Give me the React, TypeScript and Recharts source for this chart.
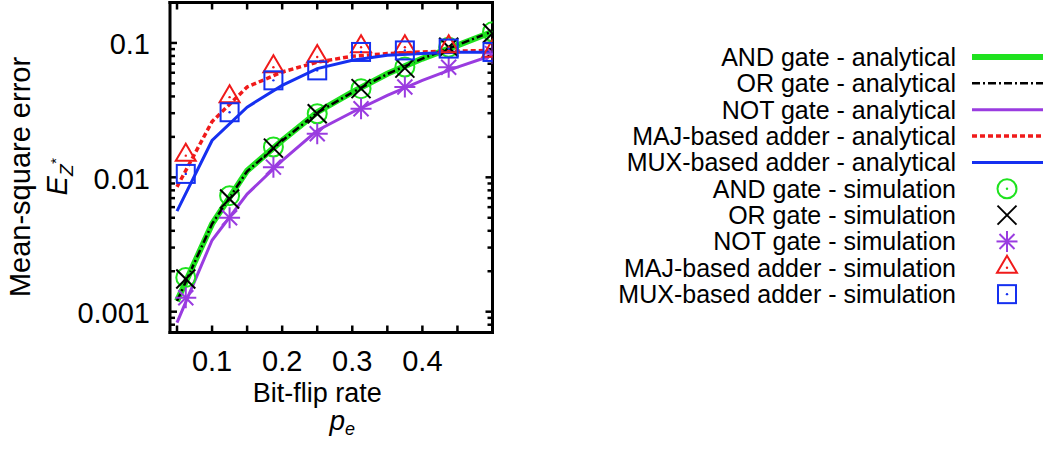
import React from 'react';
import { ComposedChart, Line, XAxis, YAxis, Legend } from 'recharts';

// ---------- data ----------
const analyticalPe = [0.05, 0.1, 0.15, 0.2, 0.25, 0.3, 0.35, 0.4, 0.45, 0.5];
const andAnalytical = [0.0012, 0.0045, 0.0112, 0.0188, 0.0305, 0.043, 0.059, 0.0765, 0.096, 0.121];
const orAnalytical = [0.0012, 0.0045, 0.0111, 0.0187, 0.0303, 0.0428, 0.0588, 0.0765, 0.0965, 0.122];
const notAnalytical = [0.00083, 0.0034, 0.0075, 0.0133, 0.0223, 0.0305, 0.0407, 0.0527, 0.066, 0.081];
const majAnalytical = [0.0085, 0.026, 0.047, 0.0608, 0.072, 0.0796, 0.0833, 0.0857, 0.087, 0.088];
const muxAnalytical = [0.0056, 0.0188, 0.0333, 0.0483, 0.0644, 0.0743, 0.081, 0.0833, 0.0852, 0.0852];

const simulationPe = [0.0625, 0.125, 0.1875, 0.25, 0.3125, 0.375, 0.4375, 0.5];
const andSimulation = [0.0018, 0.0073, 0.0168, 0.0297, 0.0457, 0.0662, 0.093, 0.121];
const orSimulation = [0.00175, 0.0069, 0.0165, 0.0297, 0.0457, 0.065, 0.093, 0.118];
const notSimulation = [0.00127, 0.005, 0.0119, 0.0211, 0.0324, 0.047, 0.066, 0.0833];
const majSimulation = [0.0145, 0.0395, 0.066, 0.0787, 0.093, 0.093, 0.093, 0.086];
const muxSimulation = [0.0106, 0.0305, 0.0527, 0.0625, 0.0857, 0.088, 0.0908, 0.0857];

const xTickLabels = [0.1, 0.2, 0.3, 0.4];
const xTickMarks = [0.05, 0.1, 0.15, 0.2, 0.25, 0.3, 0.35, 0.4, 0.45, 0.5];
const yTickLabels = [0.001, 0.01, 0.1];
const yMinorTicks = [
  0.0007, 0.0008, 0.0009,
  0.002, 0.003, 0.004, 0.005, 0.006, 0.007, 0.008, 0.009,
  0.02, 0.03, 0.04, 0.05, 0.06, 0.07, 0.08, 0.09, 0.2,
];
const xDomain = [0.04, 0.5];
const yDomain = [0.0007, 0.2];

const seriesNames = [
  'AND gate - analytical',
  'OR gate - analytical',
  'NOT gate - analytical',
  'MAJ-based adder - analytical',
  'MUX-based adder - analytical',
  'AND gate - simulation',
  'OR gate - simulation',
  'NOT gate - simulation',
  'MAJ-based adder - simulation',
  'MUX-based adder - simulation',
];

// ---------- styles ----------
const FONT = '"Liberation Sans", Arial, Helvetica, sans-serif';
const GREEN = '#1fe21f';
const BLACK = '#000000';
const PURPLE = '#9a3ce0';
const RED = '#f01a1a';
const BLUE = '#1530f0';
const TICK_LEN = 7;
const LABEL_GAP = 18;

type LineStyle = { color: string; width: number; dash?: string };
const lineStyles: LineStyle[] = [
  { color: GREEN, width: 6 },
  { color: BLACK, width: 2.5, dash: '8 3 2 3' },
  { color: PURPLE, width: 3 },
  { color: RED, width: 3.5, dash: '5 3' },
  { color: BLUE, width: 3 },
];
type MarkerKind = 'circle' | 'cross' | 'star' | 'triangle' | 'square';
const markerStyles: { kind: MarkerKind; color: string }[] = [
  { kind: 'circle', color: GREEN },
  { kind: 'cross', color: BLACK },
  { kind: 'star', color: PURPLE },
  { kind: 'triangle', color: RED },
  { kind: 'square', color: BLUE },
];

const zip = (xs: number[], ys: number[]) => xs.map((x, i) => ({ x, y: ys[i] }));
const analyticalSeries = [andAnalytical, orAnalytical, notAnalytical, majAnalytical, muxAnalytical].map((ys) =>
  zip(analyticalPe, ys)
);
const simulationSeries = [andSimulation, orSimulation, notSimulation, majSimulation, muxSimulation].map((ys) =>
  zip(simulationPe, ys)
);
// tick-mark anchors on the bottom and top frame edges (domain ends of the y axis)
const bottomTickAnchors = xTickMarks.map((x) => ({ x, y: yDomain[0] }));
const topTickAnchors = xTickMarks.map((x) => ({ x, y: yDomain[1] }));

function Marker({ kind, cx, cy, color }: { kind: MarkerKind; cx: number; cy: number; color: string }) {
  const sw = 2;
  if (kind === 'circle') {
    return (
      <g>
        <circle cx={cx} cy={cy} r={9.5} fill="none" stroke={color} strokeWidth={sw} />
        <circle cx={cx} cy={cy} r={1.2} fill={color} />
      </g>
    );
  }
  if (kind === 'cross') {
    const s = 9.5;
    return (
      <g stroke={color} strokeWidth={sw}>
        <line x1={cx - s} y1={cy - s} x2={cx + s} y2={cy + s} />
        <line x1={cx - s} y1={cy + s} x2={cx + s} y2={cy - s} />
      </g>
    );
  }
  if (kind === 'star') {
    const s = 10.5;
    const d = 7.5;
    return (
      <g stroke={color} strokeWidth={sw}>
        <line x1={cx} y1={cy - s} x2={cx} y2={cy + s} />
        <line x1={cx - s} y1={cy} x2={cx + s} y2={cy} />
        <line x1={cx - d} y1={cy - d} x2={cx + d} y2={cy + d} />
        <line x1={cx - d} y1={cy + d} x2={cx + d} y2={cy - d} />
      </g>
    );
  }
  if (kind === 'triangle') {
    return (
      <g>
        <polygon
          points={`${cx},${cy - 12} ${cx - 10},${cy + 5} ${cx + 10},${cy + 5}`}
          fill="none"
          stroke={color}
          strokeWidth={sw}
          strokeLinejoin="miter"
        />
        <circle cx={cx} cy={cy} r={1.2} fill={color} />
      </g>
    );
  }
  return (
    <g>
      <rect x={cx - 9} y={cy - 9} width={18} height={18} fill="none" stroke={color} strokeWidth={sw} />
      <circle cx={cx} cy={cy} r={1.2} fill={color} />
    </g>
  );
}

const renderLegend = () => (
  <svg width={444} height={280} style={{ display: 'block', overflow: 'visible' }}>
    {seriesNames.map((name, i) => {
      const base = 26 + i * 26.35;
      const mid = base - 9;
      const isLine = i < 5;
      return (
        <g key={name}>
          <text x={356} y={base} textAnchor="end" fontSize={25} fontFamily={FONT} fill="#000">
            {name}
          </text>
          {isLine ? (
            <line
              x1={372}
              x2={443}
              y1={mid}
              y2={mid}
              stroke={lineStyles[i].color}
              strokeWidth={lineStyles[i].width}
              strokeDasharray={lineStyles[i].dash}
            />
          ) : (
            <Marker kind={markerStyles[i - 5].kind} color={markerStyles[i - 5].color} cx={407} cy={mid} />
          )}
        </g>
      );
    })}
  </svg>
);

const renderXLabel = (props: any) => {
  const vb = props.viewBox || {};
  const cx = vb.x + vb.width / 2;
  const top = vb.y;
  return (
    <g fontFamily={FONT} fill="#000">
      <text x={cx - 14} y={top + 69} textAnchor="middle" fontSize={27}>
        Bit-flip rate
      </text>
      <text x={cx + 11} y={top + 97} textAnchor="middle" fontSize={28}>
        <tspan fontStyle="italic">p</tspan>
        <tspan fontStyle="italic" fontSize={18} dy={5}>
          e
        </tspan>
      </text>
    </g>
  );
};

const renderYLabel = (props: any) => {
  const vb = props.viewBox || {};
  const cy = vb.y + vb.height / 2 + 9.5;
  const x1 = vb.x - 40;
  const x2 = vb.x - 3;
  return (
    <g fontFamily={FONT} fill="#000">
      <text x={x1} y={cy} textAnchor="middle" fontSize={29} transform={`rotate(-90, ${x1}, ${cy})`}>
        Mean-square error
      </text>
      <text x={x2} y={cy} textAnchor="middle" fontSize={29} transform={`rotate(-90, ${x2}, ${cy})`}>
        <tspan fontStyle="italic">E</tspan>
        <tspan fontStyle="italic" fontSize={19} dy={6}>
          Z
        </tspan>
        <tspan fontStyle="italic" fontSize={15} dy={-12}>
          *
        </tspan>
      </text>
    </g>
  );
};

const noTickLabel = () => <g />;

const renderXTick = (p: any) => {
  const v = p.payload?.value;
  if (!xTickLabels.includes(v)) return <g />;
  return (
    <text x={p.x} y={p.y} dy="0.71em" textAnchor="middle" fontSize={29} fontFamily={FONT} fill="#000">
      {String(v)}
    </text>
  );
};

// inward frame ticks, drawn at the scaled positions of the anchors
const bottomTickDot = (p: any) => (
  <rect key={`bt${p.index}`} x={p.cx - 1.25} y={p.cy - TICK_LEN} width={2.5} height={TICK_LEN} fill="#000" />
);
const topTickDot = (p: any) => (
  <rect key={`tt${p.index}`} x={p.cx - 1.25} y={p.cy} width={2.5} height={TICK_LEN} fill="#000" />
);

const frameLine = { stroke: '#000', strokeWidth: 3, strokeLinecap: 'square' as const };
const tickStroke = { stroke: '#000', strokeWidth: 2.5 };
const tickFont = { fontSize: 29, fill: '#000', fontFamily: FONT };

export default function App() {
  return (
    <div style={{ position: 'absolute', left: 0, top: 0, width: 1044, height: 459, background: '#fff' }}>
      <ComposedChart
        width={1044}
        height={459}
        margin={{ top: 2.5, left: 70, right: 551.5, bottom: 56.5 }}
      >
        <XAxis
          xAxisId="x"
          dataKey="x"
          type="number"
          domain={xDomain}
          allowDataOverflow
          ticks={xTickMarks}
          interval={0}
          tickLine={false}
          tickSize={0}
          tickMargin={LABEL_GAP}
          tick={renderXTick}
          axisLine={frameLine}
          height={70}
          label={renderXLabel}
        />
        <XAxis
          xAxisId="xt"
          dataKey="x"
          type="number"
          domain={xDomain}
          allowDataOverflow
          orientation="top"
          mirror
          height={1}
          ticks={xTickMarks}
          interval={0}
          tickLine={false}
          tick={noTickLabel}
          axisLine={frameLine}
        />
        <YAxis
          yAxisId="y"
          type="number"
          scale="log"
          domain={yDomain}
          allowDataOverflow
          ticks={yTickLabels}
          interval={0}
          tickFormatter={(v: number) => String(v)}
          tickLine={false}
          tickSize={0}
          tickMargin={20}
          tick={{ ...tickFont, dy: 1 }}
          axisLine={frameLine}
          width={100}
          label={renderYLabel}
        />
        <YAxis
          yAxisId="yl1"
          type="number"
          scale="log"
          domain={yDomain}
          allowDataOverflow
          orientation="left"
          mirror
          width={1}
          ticks={yTickLabels}
          interval={0}
          tickSize={7}
          tickLine={tickStroke}
          tick={noTickLabel}
          axisLine={false}
        />
        <YAxis
          yAxisId="yl2"
          type="number"
          scale="log"
          domain={yDomain}
          allowDataOverflow
          orientation="left"
          mirror
          width={1}
          ticks={yMinorTicks}
          interval={0}
          tickSize={4}
          tickLine={tickStroke}
          tick={noTickLabel}
          axisLine={false}
        />
        <YAxis
          yAxisId="yr1"
          type="number"
          scale="log"
          domain={yDomain}
          allowDataOverflow
          orientation="right"
          mirror
          width={1}
          ticks={yTickLabels}
          interval={0}
          tickSize={7}
          tickLine={tickStroke}
          tick={noTickLabel}
          axisLine={frameLine}
        />
        <YAxis
          yAxisId="yr2"
          type="number"
          scale="log"
          domain={yDomain}
          allowDataOverflow
          orientation="right"
          mirror
          width={1}
          ticks={yMinorTicks}
          interval={0}
          tickSize={4}
          tickLine={tickStroke}
          tick={noTickLabel}
          axisLine={false}
        />

        <Line
          xAxisId="x"
          yAxisId="y"
          data={bottomTickAnchors}
          dataKey="y"
          stroke="none"
          legendType="none"
          dot={bottomTickDot}
          activeDot={false}
          isAnimationActive={false}
        />
        <Line
          xAxisId="x"
          yAxisId="y"
          data={topTickAnchors}
          dataKey="y"
          stroke="none"
          legendType="none"
          dot={topTickDot}
          activeDot={false}
          isAnimationActive={false}
        />

        {analyticalSeries.map((data, i) => (
          <Line
            key={`a${i}`}
            xAxisId="x"
            yAxisId="y"
            data={data}
            dataKey="y"
            name={seriesNames[i]}
            type="linear"
            stroke={lineStyles[i].color}
            strokeWidth={lineStyles[i].width}
            strokeDasharray={lineStyles[i].dash}
            dot={false}
            activeDot={false}
            isAnimationActive={false}
          />
        ))}
        {simulationSeries.map((data, i) => (
          <Line
            key={`s${i}`}
            xAxisId="xt"
            yAxisId="y"
            data={data}
            dataKey="y"
            name={seriesNames[i + 5]}
            type="linear"
            stroke="none"
            dot={(p: any) => (
              <Marker
                key={`m${i}-${p.index}`}
                kind={markerStyles[i].kind}
                color={markerStyles[i].color}
                cx={p.cx}
                cy={p.cy}
              />
            )}
            activeDot={false}
            isAnimationActive={false}
          />
        ))}
        <Legend
          layout="vertical"
          align="center"
          verticalAlign="middle"
          content={renderLegend}
          wrapperStyle={{ left: 600, top: 40, width: 444, height: 280 }}
        />
      </ComposedChart>
    </div>
  );
}
